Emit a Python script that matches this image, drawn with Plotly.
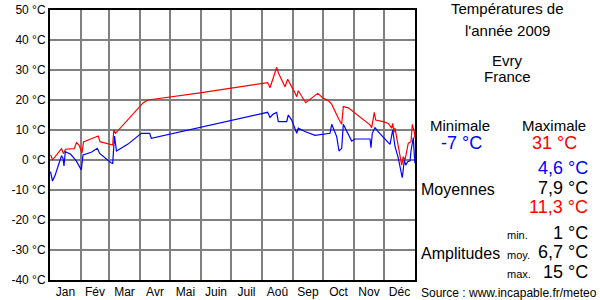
import plotly.graph_objects as go

# ---- data ----
month_labels = ["Jan", "Fév", "Mar", "Avr", "Mai", "Juin", "Juil", "Aoû", "Sep", "Oct", "Nov", "Déc"]
month_starts = [0, 31, 59, 90, 120, 151, 181, 212, 243, 273, 304, 334, 365]

max_days = [0.7, 2.5, 11.5, 13.5, 15.5, 24.2, 26.5, 29, 32, 33.5, 40, 48.3, 50, 60, 62.7, 63.8, 65.5,
            93.3, 98, 150, 217.7, 220, 226.7, 228.3, 235, 237.7, 240, 244.3, 246.7, 248.3, 255.7,
            261.7, 267.7, 273.3, 278.3, 281.7, 284.3, 288.3, 291.7, 293.3, 298.3, 305, 320, 321.7,
            323.3, 324.3, 325.7, 333.3, 338.3, 341.7, 342.7, 344, 345, 348.3, 351.7, 353.3, 355,
            358.3, 361, 362.3, 364.3, 365]
max_temps = [1.7, 0.0, 3.8, 2.2, 3.6, 3.8, 5.8, 5.0, 2.4, 6.0, 6.9, 8.0, 6.1, 5.3, 5.0, 10.0, 8.9,
             19.1, 20.0, 22.4, 25.8, 24.1, 30.9, 29.1, 24.4, 26.9, 25.6, 22.8, 21.1, 23.1, 19.1,
             20.8, 22.2, 20.6, 19.8, 18.6, 16.7, 13.9, 11.9, 17.8, 17.4, 15.6, 11.7, 10.8,
             14.1, 15.9, 13.3, 12.8, 12.2, 10.6, 12.2, 9.2, 10.6, 5.0, -1.7, 1.1, 0.0,
             5.6, 6.1, 11.9, 9.4, 7.2]

min_days = [0.5, 2.5, 5, 11.5, 13, 14, 15.3, 20.7, 24, 26.3, 31.3, 33, 41.3, 47.3, 49.7, 56.3, 61,
            62.7, 64.5, 66.5, 78, 91.3, 99.7, 101.3, 215, 217.7, 220, 223.3, 226.7, 228.3, 236.7,
            238.3, 241.7, 244.3, 246.7, 248.3, 254.3, 265, 275, 280, 281.7, 286.7, 289, 291.7,
            293.3, 301.7, 305, 320, 321, 322.3, 325, 328.3, 340, 341.7, 342.7, 345, 348.3, 351.7,
            352.3, 354.3, 355.7, 357.7, 360, 361, 363.3, 364.3, 365]
min_temps = [-3.9, -7.0, -5.2, 1.4, 0.6, -2.0, 2.8, 1.9, 0.6, -0.3, -3.3, 1.7, 2.6, 3.9, 2.2, 0.3, -0.9,
             -1.1, 8.0, 3.0, 5.3, 8.9, 8.9, 7.2, 15.8, 15.9, 14.2, 15.3, 15.9, 12.8, 12.8,
             15.0, 13.3, 11.1, 8.9, 10.6, 9.6, 8.2, 8.6, 8.9, 11.9, 7.8, 3.0, 3.9,
             11.9, 6.3, 7.0, 7.0, 4.1, 8.9, 10.8, 9.4, 5.2, 8.3, 10.0, 4.5, 0.6, -5.0,
             -5.9, 0.0, -1.7, -0.6, -0.3, 3.0, 7.5, 1.7, -1.1]

y_ticks = [-40, -30, -20, -10, 0, 10, 20, 30, 40, 50]

title_lines = ["Températures de", "l'année 2009", "Evry", "France"]
stat_min, stat_max = "-7 °C", "31 °C"
moy_values = ["4,6 °C", "7,9 °C", "11,3 °C"]
ampl_labels = ["min.", "moy.", "max."]
ampl_values = ["1 °C", "6,7 °C", "15 °C"]
source_text = "Source : www.incapable.fr/meteo"

# ---- figure ----
L, R, T, B = 50, 415, 10, 280
W, H = 600, 300

def px(x):
    return (x - L) / (R - L)

def py(y):
    return (B - y) / (B - T)

FONT = "Liberation Sans, Arial, sans-serif"
RED, BLUE, BLACK = "#ff0000", "#0000ff", "#000000"

fig = go.Figure()
fig.add_trace(go.Scatter(x=max_days, y=max_temps, mode="lines",
                         line=dict(color=RED, width=1.2), showlegend=False))
fig.add_trace(go.Scatter(x=min_days, y=min_temps, mode="lines",
                         line=dict(color=BLUE, width=1.2), showlegend=False))

mids = [(month_starts[i] + month_starts[i + 1]) / 2 for i in range(12)]

fig.update_layout(
    width=W, height=H,
    margin=dict(l=L, r=W - R, t=T, b=H - B),
    paper_bgcolor="white", plot_bgcolor="white",
    font=dict(family=FONT, size=12, color=BLACK),
    xaxis=dict(range=[0, 365], tickmode="array", tickvals=mids, ticktext=month_labels,
               showgrid=False, ticks="", zeroline=False, automargin=False,
               showline=True, mirror=True, linecolor=BLACK, linewidth=2,
               tickfont=dict(size=12, color=BLACK, family=FONT),
               minor=dict(tickmode="array", tickvals=month_starts[1:-1], showgrid=True,
                          gridcolor="#808080", gridwidth=2, ticks="")),
    yaxis=dict(range=[-40, 50], tickmode="array", tickvals=y_ticks,
               ticktext=[f"{v} °C" for v in y_ticks], automargin=False,
               showgrid=True, gridcolor="#808080", gridwidth=2, zeroline=False,
               ticks="", showline=True, mirror=True, linecolor=BLACK, linewidth=2,
               tickfont=dict(size=12, color=BLACK, family=FONT)),
)

def ann(text, x, y, size, color=BLACK, xanchor="center"):
    fig.add_annotation(text=text, x=px(x), y=py(y), xref="paper", yref="paper",
                       xanchor=xanchor, yanchor="middle", showarrow=False,
                       font=dict(family=FONT, size=size, color=color))

ann(title_lines[0], 507, 9, 15)
ann(title_lines[1], 507, 30, 15)
ann(title_lines[2], 507, 60, 15)
ann(title_lines[3], 507, 77, 15)

ann("Minimale", 460, 126, 15)
ann("Maximale", 554, 126, 15)
ann(stat_min, 461, 143, 18, BLUE)
ann(stat_max, 554, 143, 18, RED)

ann(moy_values[0], 590, 168, 18, BLUE, "right")
ann(moy_values[1], 590, 188, 18, BLACK, "right")
ann(moy_values[2], 590, 207, 18, RED, "right")
ann("Moyennes", 419, 189, 16, BLACK, "left")

ann(ampl_values[0], 590, 233, 18, BLACK, "right")
ann(ampl_values[1], 590, 252, 18, BLACK, "right")
ann(ampl_values[2], 590, 272, 18, BLACK, "right")
ann(ampl_labels[0], 505, 235, 11, BLACK, "left")
ann(ampl_labels[1], 505, 255, 11, BLACK, "left")
ann(ampl_labels[2], 505, 274, 11, BLACK, "left")
ann("Amplitudes", 419, 253, 16, BLACK, "left")

ann(source_text, 419, 293, 12, BLACK, "left")

fig.write_html("out.html")
